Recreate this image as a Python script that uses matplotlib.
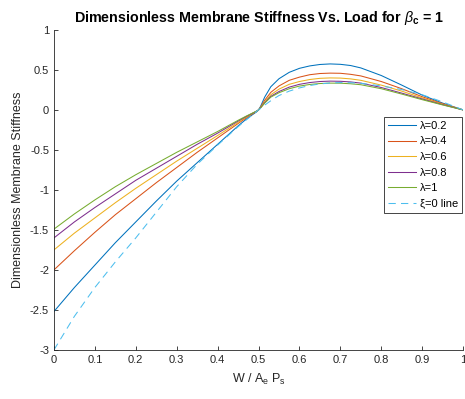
import numpy as np
import matplotlib
matplotlib.use("Agg")
import matplotlib.pyplot as plt

# load ratio W / (Ae Ps)
x = [0, 0.05, 0.1, 0.15, 0.2, 0.25, 0.3, 0.35, 0.4, 0.45, 0.47, 0.485, 0.495, 0.5,
     0.505, 0.515, 0.53, 0.55, 0.575, 0.6, 0.625, 0.65, 0.675, 0.7, 0.725, 0.75,
     0.8, 0.85, 0.9, 0.95, 1.0]

lam02 = [-2.52, -2.22, -1.94, -1.66, -1.40, -1.14, -0.89, -0.66, -0.43, -0.20, -0.115, -0.06, -0.025, 0.0,
         0.045, 0.16, 0.29, 0.39, 0.47, 0.52, 0.55, 0.568, 0.575, 0.57, 0.555, 0.525,
         0.43, 0.31, 0.185, 0.085, 0.0]
lam04 = [-2.00, -1.76, -1.53, -1.31, -1.11, -0.91, -0.72, -0.53, -0.35, -0.17, -0.10, -0.05, -0.02, 0.0,
         0.035, 0.12, 0.22, 0.30, 0.37, 0.41, 0.44, 0.455, 0.46, 0.458, 0.445, 0.425,
         0.355, 0.265, 0.165, 0.078, 0.0]
lam06 = [-1.75, -1.54, -1.35, -1.16, -0.98, -0.81, -0.64, -0.48, -0.32, -0.155, -0.09, -0.045, -0.017, 0.0,
         0.03, 0.10, 0.19, 0.26, 0.32, 0.355, 0.38, 0.395, 0.40, 0.398, 0.388, 0.37,
         0.31, 0.235, 0.15, 0.072, 0.0]
lam08 = [-1.60, -1.40, -1.22, -1.05, -0.88, -0.73, -0.58, -0.43, -0.29, -0.14, -0.082, -0.042, -0.016, 0.0,
         0.027, 0.09, 0.17, 0.23, 0.285, 0.32, 0.342, 0.355, 0.36, 0.358, 0.35, 0.335,
         0.28, 0.21, 0.137, 0.066, 0.0]
lam10 = [-1.49, -1.30, -1.125, -0.96, -0.81, -0.67, -0.53, -0.40, -0.27, -0.13, -0.077, -0.04, -0.015, 0.0,
         0.025, 0.085, 0.16, 0.215, 0.265, 0.298, 0.318, 0.33, 0.335, 0.334, 0.327, 0.315,
         0.265, 0.198, 0.128, 0.062, 0.0]
xi0 = [-3.0, -2.58, -2.22, -1.90, -1.60, -1.28, -0.96, -0.68, -0.44, -0.21, -0.125, -0.062, -0.02, 0.0,
       0.02, 0.06, 0.115, 0.18, 0.235, 0.275, 0.305, 0.325, 0.337, 0.342, 0.34, 0.333,
       0.30, 0.255, 0.19, 0.10, 0.0]

labels = ["λ=0.2", "λ=0.4", "λ=0.6", "λ=0.8", "λ=1", "ξ=0 line"]
colors = ["#0072BD", "#D95319", "#EDB120", "#7E2F8E", "#77AC30", "#4DBEEE"]

plt.rcParams['font.family'] = ['Liberation Sans', 'DejaVu Sans']
plt.rcParams['mathtext.fontset'] = 'custom'
plt.rcParams['mathtext.rm'] = 'Liberation Sans'
plt.rcParams['mathtext.it'] = 'Liberation Sans:italic'
plt.rcParams['mathtext.bf'] = 'Liberation Sans:bold'

fig = plt.figure(figsize=(4.65, 3.99), dpi=100)
ax = fig.add_axes([0.116, 0.123, 0.880, 0.802])

series = [lam02, lam04, lam06, lam08, lam10]
for i, s in enumerate(series):
    ax.plot(x, s, color=colors[i], lw=0.75, label=labels[i])
ax.plot(x, xi0, color=colors[5], lw=0.75, ls=(0, (7, 5)), label=labels[5])

ax.set_xlim(0, 1)
ax.set_ylim(-3, 1)
ax.set_xticks(np.arange(0, 1.01, 0.1))
ax.set_xticklabels(["0", "0.1", "0.2", "0.3", "0.4", "0.5", "0.6", "0.7", "0.8", "0.9", "1"])
ax.set_yticks(np.arange(-3, 1.01, 0.5))
ax.set_yticklabels(["-3", "-2.5", "-2", "-1.5", "-1", "-0.5", "0", "0.5", "1"])
ax.tick_params(direction='in', length=3, width=0.6, labelsize=8, colors='#262626')
ax.spines['top'].set_visible(False)
ax.spines['right'].set_visible(False)
for sp in ['left', 'bottom']:
    ax.spines[sp].set_linewidth(0.6)
    ax.spines[sp].set_color('#262626')

ax.set_xlabel("W / A$_\\mathregular{e}$ P$_\\mathregular{s}$", fontsize=9, color='#262626', labelpad=5)
ax.set_ylabel("Dimensionless Membrane Stiffness", fontsize=9, color='#262626', labelpad=4)
ax.set_title("Dimensionless Membrane Stiffness Vs. Load for $\\beta_\\mathbf{c}$ = 1",
             fontsize=10.3, fontweight='bold', pad=6)

leg = ax.legend(loc='upper right', bbox_to_anchor=(0.997, 0.728), fontsize=8,
                frameon=True, fancybox=False, edgecolor='#262626', framealpha=1,
                handlelength=2.6, handletextpad=0.3, labelspacing=0.5,
                borderpad=0.35, borderaxespad=0)
leg.get_frame().set_linewidth(0.6)

fig.savefig("out.png", dpi=100)
